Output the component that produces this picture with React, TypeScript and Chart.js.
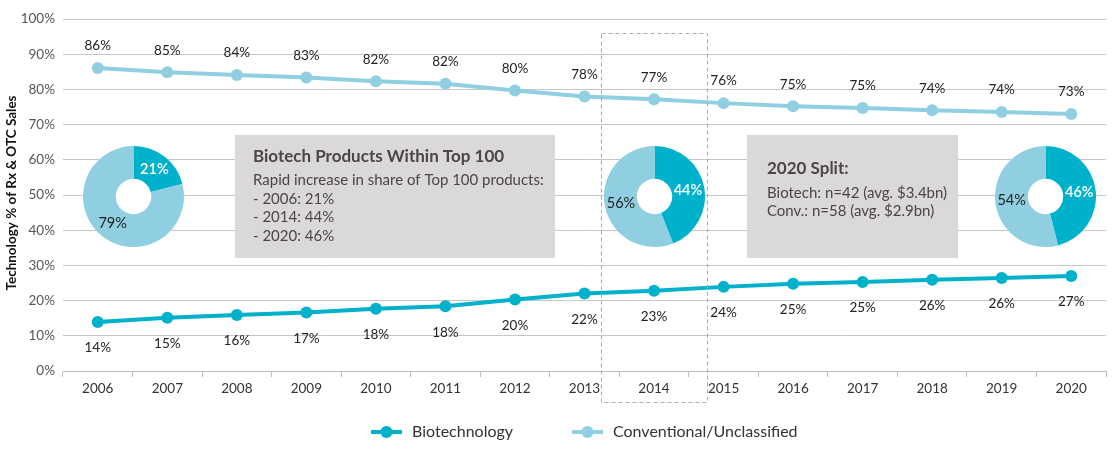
import React, { useEffect, useRef } from "react";
import { Chart, registerables } from "chart.js";

Chart.register(...registerables);

const years = ["2006", "2007", "2008", "2009", "2010", "2011", "2012", "2013", "2014", "2015", "2016", "2017", "2018", "2019", "2020"];
const biotech = [13.9, 15.1, 15.9, 16.6, 17.7, 18.4, 20.3, 22.0, 22.8, 23.9, 24.8, 25.3, 25.9, 26.4, 27.0];
const conventional = [86.1, 84.9, 84.1, 83.4, 82.3, 81.6, 79.7, 78.0, 77.2, 76.1, 75.2, 74.7, 74.1, 73.6, 73.0];
const biotechLabels = ["14%", "15%", "16%", "17%", "18%", "18%", "20%", "22%", "23%", "24%", "25%", "25%", "26%", "26%", "27%"];
const conventionalLabels = ["86%", "85%", "84%", "83%", "82%", "82%", "80%", "78%", "77%", "76%", "75%", "75%", "74%", "74%", "73%"];

const pieLabels = ["Biotechnology", "Conventional/Unclassified"];
const pie2006 = [21, 79];
const pie2014 = [44, 56];
const pie2020 = [46, 54];

const box1Title = "Biotech Products Within Top 100";
const box1Lines = ["Rapid increase in share of Top 100 products:", "- 2006: 21%", "- 2014: 44%", "- 2020: 46%"];
const box2Title = "2020 Split:";
const box2Lines = ["Biotech: n=42 (avg. $3.4bn)", "Conv.: n=58 (avg. $2.9bn)"];

const yAxisTitle = "Technology % of Rx & OTC Sales";

const BIO = "#00B1CB";
const CONV = "#8FCFE1";
const FONT = "Lato, 'Open Sans', sans-serif";

const overlayPlugin = {
  id: "overlay",
  beforeDatasetsDraw(chart: any) {
    const ctx = chart.ctx;
    ctx.save();
    // annotation boxes
    ctx.fillStyle = "#DAD8DB";
    ctx.fillRect(235, 135, 320, 123);
    ctx.fillRect(747, 135, 211, 123);
    ctx.fillStyle = "#4A4648";
    ctx.textAlign = "left";
    ctx.textBaseline = "middle";
    ctx.font = `bold 17px ${FONT}`;
    ctx.fillText(box1Title, 253, 157);
    ctx.font = `15px ${FONT}`;
    box1Lines.forEach((t, i) => ctx.fillText(t, 253, 180 + i * 18.7));
    ctx.font = `bold 17px ${FONT}`;
    ctx.fillText(box2Title, 767, 169);
    ctx.font = `15px ${FONT}`;
    box2Lines.forEach((t, i) => ctx.fillText(t, 767, 193 + i * 18));
    ctx.restore();
  },
  afterDatasetsDraw(chart: any) {
    const ctx = chart.ctx;
    ctx.save();
    // point labels
    ctx.font = `13.5px ${FONT}`;
    ctx.fillStyle = "#222";
    ctx.textAlign = "center";
    ctx.textBaseline = "middle";
    chart.data.datasets.forEach((ds: any, i: number) => {
      const meta = chart.getDatasetMeta(i);
      const texts = i === 0 ? biotechLabels : conventionalLabels;
      const off = i === 0 ? 26 : -22;
      meta.data.forEach((pt: any, j: number) => {
        ctx.fillText(texts[j], pt.x, pt.y + off);
      });
    });
    // dashed highlight rectangle
    ctx.strokeStyle = "#AAAAAA";
    ctx.lineWidth = 1;
    ctx.setLineDash([4, 3]);
    ctx.strokeRect(601.5, 33.5, 106, 369);
    ctx.setLineDash([]);
    // y axis title
    ctx.save();
    ctx.translate(12, 193);
    ctx.rotate(-Math.PI / 2);
    ctx.font = `bold 13.5px ${FONT}`;
    ctx.fillStyle = "#111";
    ctx.fillText(yAxisTitle, 0, 0);
    ctx.restore();
    // legend
    const items = [
      { x: 371, color: BIO, text: chart.data.datasets[0].label },
      { x: 572, color: CONV, text: chart.data.datasets[1].label },
    ];
    items.forEach((it) => {
      ctx.strokeStyle = it.color;
      ctx.lineWidth = 4;
      ctx.beginPath();
      ctx.moveTo(it.x, 432);
      ctx.lineTo(it.x + 31, 432);
      ctx.stroke();
      ctx.fillStyle = it.color;
      ctx.beginPath();
      ctx.arc(it.x + 15.5, 432, 6, 0, Math.PI * 2);
      ctx.fill();
      ctx.fillStyle = "#333";
      ctx.textAlign = "left";
      ctx.font = `16px ${FONT}`;
      ctx.fillText(it.text, it.x + 41, 432);
    });
    ctx.restore();
  },
};

const pieLabelPlugin = {
  id: "pieLabels",
  beforeDraw(chart: any) {
    const meta = chart.getDatasetMeta(0);
    const arc = meta.data[0];
    if (!arc) return;
    const ctx = chart.ctx;
    ctx.save();
    ctx.fillStyle = "#FFFFFF";
    ctx.beginPath();
    ctx.arc(arc.x, arc.y, arc.innerRadius + 1, 0, Math.PI * 2);
    ctx.fill();
    ctx.restore();
  },
  afterDatasetsDraw(chart: any) {
    const meta = chart.getDatasetMeta(0);
    const ctx = chart.ctx;
    const data = chart.data.datasets[0].data;
    ctx.save();
    ctx.textAlign = "center";
    ctx.textBaseline = "middle";
    meta.data.forEach((a: any, i: number) => {
      const mid = (a.startAngle + a.endAngle) / 2;
      const r = (a.innerRadius + a.outerRadius) / 2;
      const x = a.x + Math.cos(mid) * r;
      const y = a.y + Math.sin(mid) * r;
      ctx.fillStyle = i === 0 ? "#FFFFFF" : "#222";
      ctx.font = i === 0 ? `600 14.5px ${FONT}` : `14.5px ${FONT}`;
      ctx.fillText(`${data[i]}%`, x, y);
    });
    ctx.restore();
  },
};

function Donut({ values, cx, cy }: { values: number[]; cx: number; cy: number }) {
  const ref = useRef<HTMLCanvasElement>(null);
  useEffect(() => {
    if (!ref.current) return;
    const chart = new Chart(ref.current, {
      type: "doughnut",
      data: {
        labels: pieLabels,
        datasets: [{ data: values, backgroundColor: [BIO, CONV], borderWidth: 0 }],
      },
      options: {
        responsive: false,
        animation: false,
        cutout: "35%",
        layout: { padding: 0 },
        plugins: { legend: { display: false }, tooltip: { enabled: false } },
      },
      plugins: [pieLabelPlugin],
    });
    return () => chart.destroy();
  }, []);
  const size = 101;
  return (
    <canvas
      ref={ref}
      width={size}
      height={size}
      style={{ position: "absolute", left: cx - size / 2, top: cy - size / 2, width: size, height: size }}
    />
  );
}

export default function App() {
  const ref = useRef<HTMLCanvasElement>(null);
  useEffect(() => {
    if (!ref.current) return;
    Chart.defaults.font.family = FONT;
    const chart = new Chart(ref.current, {
      type: "line",
      data: {
        labels: years,
        datasets: [
          {
            label: "Biotechnology",
            data: biotech,
            borderColor: BIO,
            backgroundColor: BIO,
            borderWidth: 4,
            pointRadius: 6,
            pointBorderWidth: 0,
            tension: 0,
          },
          {
            label: "Conventional/Unclassified",
            data: conventional,
            borderColor: CONV,
            backgroundColor: CONV,
            borderWidth: 4,
            pointRadius: 6,
            pointBorderWidth: 0,
            tension: 0,
          },
        ],
      },
      options: {
        responsive: false,
        animation: false,
        layout: { padding: { top: 19, right: 7, left: 0, bottom: 0 } },
        plugins: { legend: { display: false }, tooltip: { enabled: false } },
        scales: {
          x: {
            offset: true,
            grid: { offset: true, drawOnChartArea: false, drawTicks: true, tickLength: 6, color: "#BDBDBD" },
            border: { color: "#BDBDBD" },
            ticks: { color: "#333", font: { size: 13.5 }, padding: 4 },
            afterFit: (s: any) => {
              s.height = 78;
            },
          },
          y: {
            min: 0,
            max: 100,
            grid: { color: "#C6C6C6", drawTicks: false },
            border: { display: false },
            ticks: {
              stepSize: 10,
              color: "#555",
              padding: 8,
              font: { size: 13.5 },
              callback: (v: any) => `${v}%`,
            },
            afterFit: (s: any) => {
              s.width = 63;
            },
          },
        },
      },
      plugins: [overlayPlugin],
    });
    return () => chart.destroy();
  }, []);
  return (
    <div style={{ position: "absolute", left: 0, top: 0, width: 1113, height: 449, background: "#fff" }}>
      <canvas ref={ref} width={1113} height={449} style={{ position: "absolute", left: 0, top: 0, width: 1113, height: 449 }} />
      <Donut values={pie2006} cx={133} cy={196} />
      <Donut values={pie2014} cx={654} cy={196} />
      <Donut values={pie2020} cx={1045} cy={196} />
    </div>
  );
}
